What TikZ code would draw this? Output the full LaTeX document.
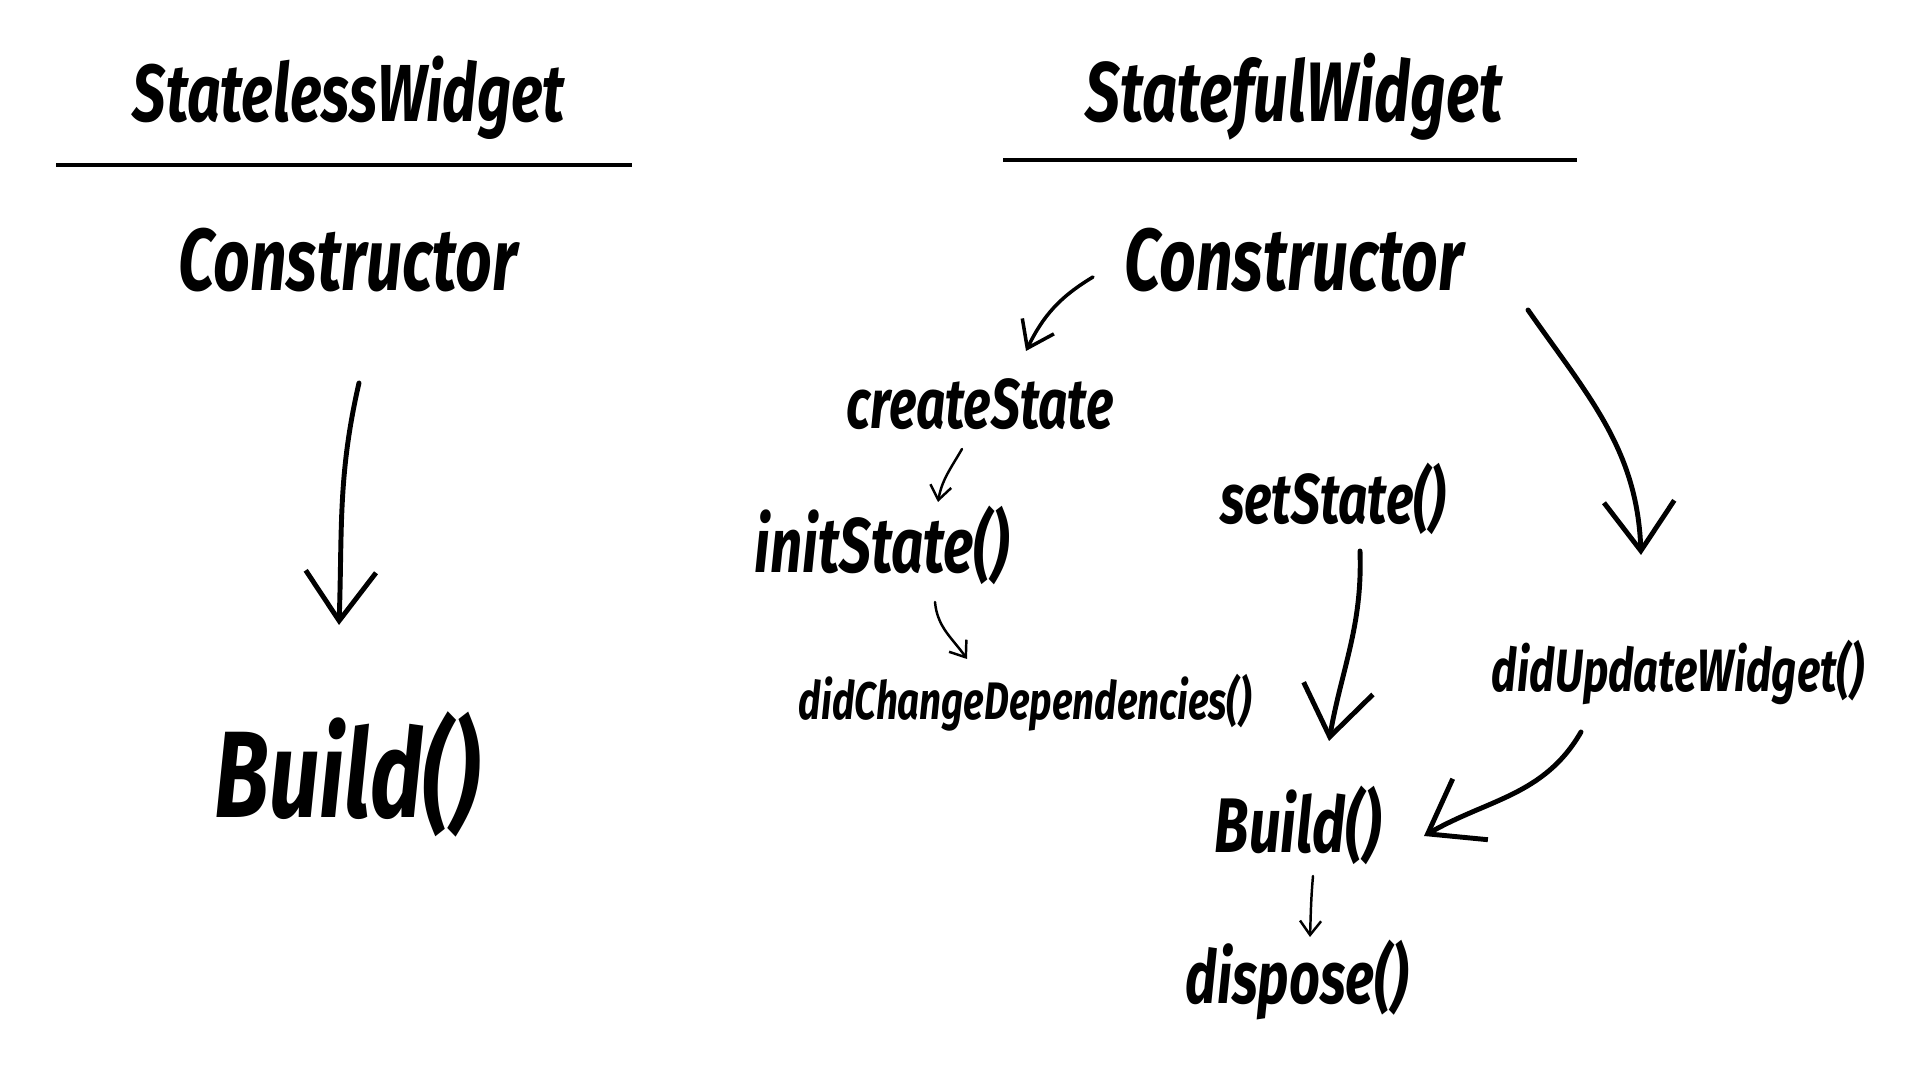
\documentclass[tikz,border=0pt]{standalone}
\usepackage{fontspec}
\usepackage{graphicx}
\setmainfont{Fira Sans}
\usetikzlibrary{arrows.meta}

\newcommand{\hw}[2]{\fontsize{#1}{#1}\selectfont\scalebox{0.73}[1]{#2}}

\begin{document}
\begin{tikzpicture}[x=0.01cm, y=0.01cm, line cap=round, line join=round,
  >={Straight Barb[length=14pt, width=20pt]}]
	\tikzset{hand/.style={font=\bfseries\itshape, inner sep=0pt, anchor=base},
		bigarrow/.style={->, line width=1.4pt},
		midarrow/.style={->, line width=1pt, >={Straight Barb[length=7pt, width=10pt]}},
		smallarrow/.style={->, line width=0.7pt, >={Straight Barb[length=4pt, width=6pt]}}}
	\useasboundingbox (0,0) rectangle (1920,-1080);
	% stateless side
	\node[hand] (lesstitle) at (349,-122) {\hw{23}{StatelessWidget}};
	\draw[line width=1.4pt, line cap=butt] (56,-165) -- (632,-165);
	\node[hand] (lcons) at (348,-291) {\hw{25}{Constructor}};
	\node[hand] (lbuild) at (347,-818) {\hw{35}{Build()}};
	\draw[bigarrow] ([shift={(11,-92)}]lcons.base) to[out=-103, in=88] ([shift={(-8,193)}]lbuild.base);
	% stateful side
	\node[hand] (fultitle) at (1294,-122) {\hw{24}{StatefulWidget}};
	\draw[line width=1.4pt, line cap=butt] (1003,-160) -- (1577,-160);
	\node[hand] (rcons) at (1294,-291) {\hw{25}{Constructor}};
	\node[hand] (create) at (980,-429) {\hw{20}{createState}};
	\node[hand] (init) at (882,-573) {\hw{22}{initState()}};
	\node[hand] (depend) at (1025,-720) {\hw{15}{didChangeDependencies()}};
	\node[hand] (setst) at (1333,-524) {\hw{20}{setState()}};
	\node[hand] (update) at (1678,-692) {\hw{17}{didUpdateWidget()}};
	\node[hand] (rbuild) at (1298,-853) {\hw{22}{Build()}};
	\node[hand] (dispose) at (1297,-1004) {\hw{21}{dispose()}};
	\draw[midarrow] ([shift={(-201,14)}]rcons.base) to[out=-149, in=64] ([shift={(46,78)}]create.base);
	\draw[smallarrow] ([shift={(-18,-20)}]create.base) to[out=-120, in=80] ([shift={(56,71)}]init.base);
	\draw[smallarrow] ([shift={(53,-29)}]init.base) to[out=-85, in=125] ([shift={(-58,61)}]depend.base);
	\draw[bigarrow] ([shift={(27,-27)}]setst.base) to[out=-88, in=80] ([shift={(31,112)}]rbuild.base);
	\draw[bigarrow] ([shift={(234,-19)}]rcons.base) to[out=-55, in=92] ([shift={(-37,137)}]update.base);
	\draw[bigarrow] ([shift={(-97,-40)}]update.base) to[out=-120, in=30] ([shift={(126,17)}]rbuild.base);
	\draw[smallarrow] ([shift={(15,-23)}]rbuild.base) to[out=-95, in=88] ([shift={(13,67)}]dispose.base);
\end{tikzpicture}
\end{document}
